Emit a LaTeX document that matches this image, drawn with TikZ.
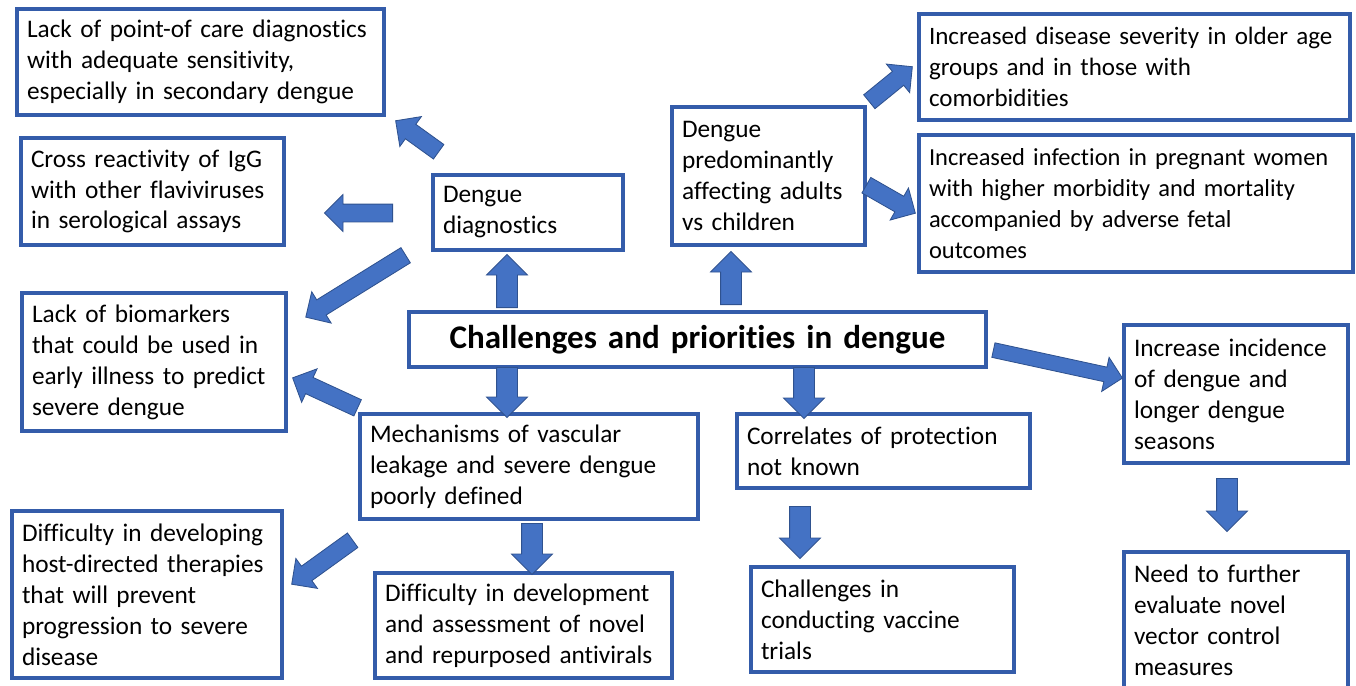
\documentclass[tikz,border=0pt]{standalone}
\usepackage{fontspec}
\setmainfont{Carlito}[Ligatures=NoCommon]
\usetikzlibrary{shapes.arrows,calc}
\definecolor{boxblue}{RGB}{52,92,170}
\definecolor{arrowfill}{RGB}{68,114,196}
\definecolor{arrowline}{RGB}{47,82,143}
\def\px{0.025cm}

\tikzset{
  box/.style args={#1 by #2}{draw=boxblue, line width=2.4pt, fill=white,
    outer sep=0pt, anchor=north west, inner xsep=10*\px, inner ysep=0pt,
    minimum width=#1*\px, minimum height=#2*\px, text width=#1*\px-20*\px,
    align=left, font=\fontsize{18}{22}\selectfont},
  barrow/.style={single arrow, fill=arrowfill, draw=arrowline, line width=0.6pt,
    inner xsep=0pt, inner ysep=10*\px, single arrow head extend=10*\px,
    single arrow tip angle=90},
  slim/.style={inner ysep=8.5*\px, single arrow head extend=9.5*\px},
}

% block arrow: name, tail, tip
\newcommand{\blockarrow}[4][]{%
  \path let \p1=#3, \p2=#4,
    \n1={atan2(\y2-\y1,\x2-\x1)}, \n2={veclen(\x2-\x1,\y2-\y1)} in
    node[barrow, #1, anchor=tail, rotate=\n1, minimum height=\n2] (#2) at (\p1) {};}

\begin{document}
\begin{tikzpicture}[x=\px, y=-\px]
  \useasboundingbox (0,0) rectangle (1356,685);

  % centre
  \node[box=577 by 55, align=center, font=\fontsize{23.5}{26}\selectfont\bfseries] (main) at (409,312)
    {Challenges and priorities in dengue};

  % diagnostics branch
  \node[box=190 by 75] (diagnostics) at (433,175) {Dengue\\diagnostics};
  \node[box=367 by 106] (pointofcare) at (17,9)
    {Lack of point-of care diagnostics\\with adequate sensitivity,\\especially in secondary dengue};
  \node[box=263 by 107] (crossreact) at (21,138)
    {Cross reactivity of IgG\\with other flaviviruses\\in serological assays};
  \node[box=264 by 138] (biomarkers) at (22,293)
    {Lack of biomarkers\\that could be used in\\early illness to predict\\severe dengue};

  % pathogenesis branch
  \node[box=338 by 105] (vascular) at (360,414)
    {Mechanisms of vascular\\leakage and severe dengue\\poorly defined};
  \node[box=297 by 105] (antivirals) at (375,573)
    {Difficulty in development\\and assessment of novel\\and repurposed antivirals};
  \node[box=270 by 167] (hostdirected) at (12,511)
    {Difficulty in developing\\host-directed therapies\\that will prevent\\progression to severe\\disease};

  % adults branch
  \node[box=193 by 138] (adults) at (672,107)
    {Dengue\\predominantly\\affecting adults\\vs children};
  \node[box=431 by 106, font=\fontsize{17.8}{22}\selectfont] (older) at (919,14)
    {Increased disease severity in older age\\groups and in those with\\comorbidities};
  \node[box=434 by 137, font=\fontsize{17.4}{22}\selectfont] (pregnant) at (919,135)
    {Increased infection in pregnant women\\with higher morbidity and mortality\\accompanied by adverse fetal\\outcomes};

  % vaccine branch
  \node[box=293 by 74] (correlates) at (737,414)
    {Correlates of protection\\not known};
  \node[box=263 by 105] (vaccine) at (751,567)
    {Challenges in\\conducting vaccine\\trials};

  % incidence branch
  \node[box=224 by 138] (incidence) at (1124,325)
    {Increase incidence\\of dengue and\\longer dengue\\seasons};
  \node[box=224 by 137] (vector) at (1124,552)
    {Need to further\\evaluate novel\\vector control\\measures};

  % arrows
  \blockarrow{up1}{(507,308)}{(507,255)}
  \blockarrow{down1}{(507,367)}{(507,417)}
  \blockarrow{up2}{(731,305)}{(731,252)}
  \blockarrow{down2}{(804,367)}{(804,418)}
  \blockarrow[slim]{toleft1}{(439,152)}{(396,121)}
  \blockarrow[slim]{toleft2}{(393,213)}{(325,213)}
  \blockarrow[slim]{toleft3}{(406,255)}{(306,317)}
  \blockarrow[slim]{toleft4}{(358,408)}{(293,378)}
  \blockarrow[slim]{toleft5}{(353,540)}{(292,584)}
  \blockarrow{down3}{(532,523)}{(532,574)}
  \blockarrow{down4}{(800,506)}{(800,558)}
  \blockarrow{down5}{(1227,478)}{(1227,531)}
  \blockarrow[slim]{toright1}{(869,102)}{(912,67)}
  \blockarrow[slim]{toright2}{(866,185)}{(915,213)}
  \blockarrow[slim, inner ysep=7*\px, single arrow head extend=10*\px]{toright3}{(993,350)}{(1122,378)}
\end{tikzpicture}
\end{document}
